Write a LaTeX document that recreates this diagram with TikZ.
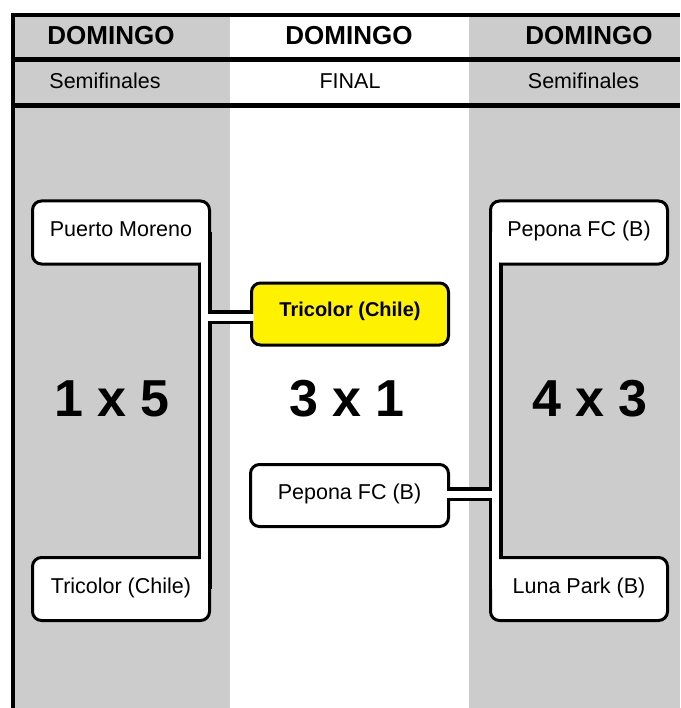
\documentclass[tikz,border=0pt]{standalone}
\usepackage{fontspec}
\setmainfont{Liberation Sans}
\usepackage{tikz}
\usetikzlibrary{positioning}
\usetikzlibrary{backgrounds}

\definecolor{colgray}{RGB}{204,204,204}

\tikzset{
  team/.style={draw, line width=3pt, fill=white, rounded corners=9pt, minimum width=177pt, minimum height=63pt, inner sep=0pt, outer sep=0pt, text height=16pt, text depth=8pt, font=\fontsize{21.5}{24}\selectfont},
  midteam/.style={team, minimum width=198pt, minimum height=62pt},
  winner/.style={team, fill=yellow, minimum width=197pt, minimum height=62pt, text height=14pt, text depth=9pt, font=\fontsize{20}{24}\selectfont\bfseries},
  dayhead/.style={anchor=base, font=\fontsize{26}{30}\selectfont\bfseries},
  stage/.style={anchor=base, font=\fontsize{21.5}{24}\selectfont},
  score/.style={anchor=base, font=\fontsize{52}{60}\selectfont\bfseries},
  bandout/.style={line width=14pt, black},
  bandin/.style={line width=7pt, white},
}

\begin{document}
\begin{tikzpicture}[x=1pt, y=-1pt]

\useasboundingbox (0,0) rectangle (680,708);

% Columnas
\begin{pgfonlayer}{background}
\fill[colgray] (13,15) rectangle (230,708);
\fill[colgray] (469,15) rectangle (680,708);
\end{pgfonlayer}

% Marco
\draw[line width=4pt, line join=miter] (13,708) -- (13,15) -- (680,15);
\draw[line width=5pt] (13,60) -- (680,60);
\draw[line width=5pt] (13,105.5) -- (680,105.5);

% Encabezado
\node[dayhead] at (111,45) (d1) {DOMINGO};
\node[dayhead] at (349,45) (d2) {DOMINGO};
\node[dayhead] at (589,45) (d3) {DOMINGO};
\node[stage] at (105,89) (s1) {Semifinales};
\node[stage] at (350,89) (s2) {FINAL};
\node[stage] at (583.5,89) (s3) {Semifinales};

% Semifinal 1
\node[team] at (121,232.5) (pm) {Puerto Moreno};
\node[team] at (121,589) (tc) {Tricolor (Chile)};
\node[score] at (112,416) (r1) {1 x 5};

% Semifinal 2
\node[team] at (579,232.5) (pf) {Pepona FC (B)};
\node[team] at (579,589) (lp) {Luna Park (B)};
\node[score] at (590,416) (r3) {4 x 3};

% Final
\node[winner] at (350,314) (fin) {Tricolor (Chile)};
\node[midteam] at (349.5,495.5) (pfm) {Pepona FC (B)};
\node[score] at (347,416) (r2) {3 x 1};

% Uniones
\coordinate (lband) at ([xshift=-5pt]pm.east);
\coordinate (rband) at ([xshift=5pt]pf.west);
\coordinate (finin) at ([yshift=-3pt]fin.west);
\coordinate (pfmout) at ([yshift=1.5pt]pfm.east);

\begin{pgfonlayer}{background}
\draw[bandout] (lband) -- ([xshift=-5pt]tc.east);
\draw[bandout] (rband) -- ([xshift=5pt]lp.west);
\draw[bandout] (lband |- finin) -- (finin);
\draw[bandout] (pfmout) -- (rband |- pfmout);
\end{pgfonlayer}

\draw[bandin] (lband) -- ([xshift=-5pt]tc.east);
\draw[bandin] (rband) -- ([xshift=5pt]lp.west);
\draw[bandin] (lband |- finin) -- ([xshift=2pt]finin);
\draw[bandin] ([xshift=-2pt]pfmout) -- (rband |- pfmout);

\end{tikzpicture}
\end{document}
